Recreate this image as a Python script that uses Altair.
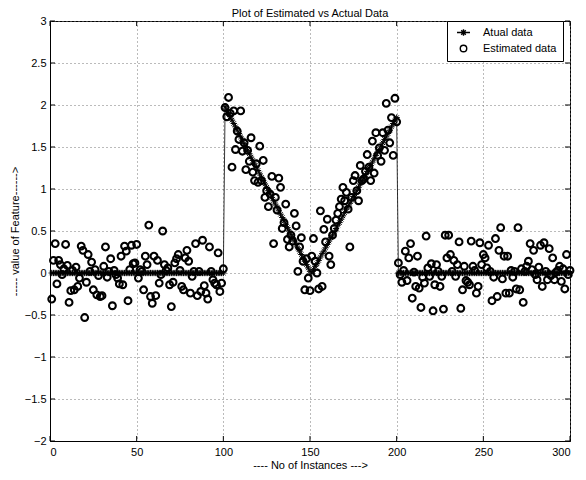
import altair as alt
import pandas as pd

# ---------------- data ----------------
x_values = list(range(1, 301))

actual_left = [0.0] * 100
actual_v = [
    1.98, 1.94, 1.90, 1.86, 1.82, 1.78, 1.74, 1.70, 1.66, 1.62,
    1.58, 1.54, 1.50, 1.46, 1.42, 1.38, 1.34, 1.30, 1.26, 1.22,
    1.18, 1.14, 1.10, 1.06, 1.02, 0.98, 0.94, 0.90, 0.86, 0.82,
    0.78, 0.74, 0.70, 0.66, 0.62, 0.58, 0.54, 0.50, 0.46, 0.42,
    0.38, 0.34, 0.30, 0.26, 0.22, 0.18, 0.14, 0.10, 0.06, 0.02,
    0.00, 0.04, 0.08, 0.11, 0.15, 0.19, 0.23, 0.26, 0.30, 0.34,
    0.38, 0.42, 0.45, 0.49, 0.53, 0.57, 0.60, 0.64, 0.68, 0.72,
    0.76, 0.79, 0.83, 0.87, 0.91, 0.94, 0.98, 1.02, 1.06, 1.10,
    1.13, 1.17, 1.21, 1.25, 1.28, 1.32, 1.36, 1.40, 1.44, 1.47,
    1.51, 1.55, 1.59, 1.62, 1.66, 1.70, 1.74, 1.78, 1.81, 1.85,
]
actual_right = [0.0] * 100

estimated = [
    -0.31, 0.15, 0.35, -0.13, 0.15, 0.10, -0.02, 0.05, 0.34, 0.09,
    -0.35, -0.21, 0.03, -0.20, 0.07, -0.16, -0.06, 0.32, 0.27, -0.53,
    -0.11, 0.22, 0.02, 0.13, -0.20, 0.04, -0.26, -0.03, -0.28, -0.27,
    0.08, 0.31, -0.05, 0.02, 0.17, -0.39, 0.03, -0.02, -0.06, -0.13,
    0.20, -0.14, 0.32, 0.26, -0.33, 0.04, 0.33, 0.11, 0.12, 0.34,
    -0.06, 0.04, 0.02, -0.20, 0.20, 0.10, 0.57, -0.28, -0.36, 0.20,
    -0.27, 0.15, -0.12, -0.02, 0.50, 0.10, 0.03, 0.06, -0.14, -0.40,
    -0.11, 0.12, 0.17, 0.22, 0.03, -0.16, -0.20, 0.18, 0.27, 0.14,
    -0.24, -0.04, 0.02, 0.35, -0.27, 0.02, -0.22, 0.39, -0.15, -0.24,
    -0.31, 0.31, 0.02, -0.08, -0.12, -0.14, 0.24, -0.22, -0.12, 0.05,
    1.97, 1.86, 2.09, 1.90, 1.26, 1.93, 1.47, 1.69, 1.59, 1.93,
    1.45, 1.55, 1.23, 1.46, 1.33, 1.61, 1.20, 1.10, 1.30, 1.08,
    1.51, 1.10, 1.34, 0.90, 0.98, 0.79, 0.94, 1.15, 0.35, 0.90,
    0.75, 1.13, 1.02, 0.53, 0.60, 0.82, 0.40, 0.31, 0.45, 0.38,
    0.71, 0.56, 0.02, 0.31, 0.42, 0.14, -0.20, 0.17, -0.06, -0.21,
    0.20, 0.41, 0.14, 0.00, -0.19, 0.74, -0.16, 0.52, 0.37, 0.64,
    0.20, 0.10, 0.45, 0.53, 0.63, 0.71, 0.79, 0.88, 1.02, 0.86,
    0.96, 0.76, 0.31, 0.90, 1.10, 1.16, 0.98, 0.86, 1.28, 1.10,
    1.12, 1.21, 1.41, 1.26, 1.10, 1.57, 1.19, 1.67, 1.40, 1.49,
    1.33, 1.67, 1.46, 2.02, 1.70, 1.55, 1.85, 1.40, 2.08, 1.80,
    0.12, -0.02, -0.11, 0.03, 0.26, -0.09, 0.18, 0.35, -0.30, 0.01,
    -0.16, 0.20, -0.18, -0.41, -0.05, -0.12, 0.44, 0.06, -0.04, 0.11,
    -0.45, -0.14, 0.10, 0.02, -0.16, -0.04, -0.43, 0.45, 0.18, 0.45,
    0.22, 0.02, 0.15, -0.04, 0.10, 0.37, -0.42, -0.20, 0.08, -0.09,
    -0.11, -0.14, 0.38, 0.08, 0.03, -0.24, -0.16, 0.36, 0.10, 0.22,
    0.18, 0.06, 0.33, 0.02, -0.33, -0.05, 0.41, -0.28, 0.27, 0.54,
    -0.07, 0.20, -0.24, 0.20, -0.24, 0.03, -0.05, 0.02, -0.19, 0.54,
    -0.20, 0.05, -0.35, 0.02, 0.08, 0.14, 0.35, 0.04, 0.27, -0.02,
    -0.08, 0.07, 0.33, -0.16, 0.36, 0.02, -0.08, 0.29, -0.03, 0.18,
    -0.08, 0.01, 0.03, 0.08, -0.10, 0.05, -0.19, 0.22, -0.02, 0.03,
]

x_ticks = [0, 50, 100, 150, 200, 250, 300]
y_ticks = [-2, -1.5, -1, -0.5, 0, 0.5, 1, 1.5, 2, 2.5, 3]
series_names = ["Atual data", "Estimated data"]

actual = actual_left + actual_v + actual_right
df = pd.DataFrame({"x": x_values, "actual": actual, "estimated": estimated})
xt = pd.DataFrame({"t": x_ticks})
yt = pd.DataFrame({"t": y_ticks})

# ---------------- styling ----------------
W, H = 520, 420
TL = 5  # inward tick length
FONT = "Liberation Sans"
STAR = "M-1,0L1,0M0,-1L0,1M-0.7,-0.7L0.7,0.7M-0.7,0.7L0.7,-0.7"
STAR_LEGEND = "M-2,0L2,0M0,-1L0,1M-0.7,-0.7L0.7,0.7M-0.7,0.7L0.7,-0.7"

xs = alt.Scale(domain=[0, 300], nice=False, zero=False)
ys = alt.Scale(domain=[-2, 3], nice=False, zero=False)
x_axis = alt.Axis(values=x_ticks, title="---- No of Instances --->", format="d",
                  labelPadding=5, titlePadding=2, titleColor="black")
y_axis = alt.Axis(values=y_ticks, title="----- value of Feature------>", format="~g",
                  labelPadding=4, titlePadding=4, titleColor="black")

line = alt.Chart(df).mark_line(color="black", strokeWidth=0.8).encode(
    x=alt.X("x:Q", scale=xs, axis=x_axis),
    y=alt.Y("actual:Q", scale=ys, axis=y_axis),
)
stars = alt.Chart(df).mark_point(shape=STAR, filled=False, color="black",
                                 strokeWidth=1, size=40, opacity=1).encode(
    x=alt.X("x:Q", scale=xs, axis=x_axis),
    y=alt.Y("actual:Q", scale=ys, axis=y_axis),
)
circles = alt.Chart(df).mark_point(shape="circle", filled=False, color="black",
                                   strokeWidth=2.1, size=46, opacity=1).encode(
    x=alt.X("x:Q", scale=xs, axis=x_axis),
    y=alt.Y("estimated:Q", scale=ys, axis=y_axis),
)

legend_layer = alt.Chart(df).transform_filter("false").transform_calculate(
    series="'Atual data'"
).mark_point(filled=False, color="black", strokeWidth=1.4, opacity=1).encode(
    x=alt.X("x:Q", scale=xs, axis=x_axis),
    y=alt.Y("estimated:Q", scale=ys, axis=y_axis),
    shape=alt.Shape(
        "series:N",
        scale=alt.Scale(domain=series_names, range=[STAR_LEGEND, "circle"]),
        legend=alt.Legend(
            title=None, orient="none", legendX=397, legendY=0,
            strokeColor="black", fillColor="white", padding=6,
            symbolOffset=5, labelOffset=14, rowPadding=3,
            symbolSize=42, symbolStrokeWidth=1.4, symbolStrokeColor="black",
            labelFont=FONT, labelFontSize=11, labelColor="black",
        ),
    ),
)

ticks_bottom = alt.Chart(xt).mark_rule(color="black", strokeWidth=1).encode(
    x=alt.X("t:Q", scale=xs, axis=x_axis), y=alt.value(H - TL), y2=alt.value(H))
ticks_top = alt.Chart(xt).mark_rule(color="black", strokeWidth=1).encode(
    x=alt.X("t:Q", scale=xs, axis=x_axis), y=alt.value(0), y2=alt.value(TL))
ticks_left = alt.Chart(yt).mark_rule(color="black", strokeWidth=1).encode(
    y=alt.Y("t:Q", scale=ys, axis=y_axis), x=alt.value(0), x2=alt.value(TL))
ticks_right = alt.Chart(yt).mark_rule(color="black", strokeWidth=1).encode(
    y=alt.Y("t:Q", scale=ys, axis=y_axis), x=alt.value(W - TL), x2=alt.value(W))

chart = alt.layer(
    ticks_bottom, ticks_top, ticks_left, ticks_right,
    line, stars, circles, legend_layer,
).properties(
    width=W, height=H,
    title=alt.TitleParams("Plot of Estimated vs Actual Data", anchor="middle",
                          font=FONT, fontSize=11, fontWeight="normal",
                          color="black", offset=1, dy=5),
    autosize=alt.AutoSizeParams(type="none"),
    padding={"left": 42, "top": 13, "right": 8, "bottom": 31},
).configure_view(
    stroke="black", strokeWidth=1
).configure_axis(
    grid=True, gridColor="#777777", gridDash=[1, 3], gridWidth=1,
    domain=True, domainColor="black", ticks=False,
    labelFont=FONT, labelFontSize=11, labelColor="black",
    titleFont=FONT, titleFontSize=11, titleFontWeight="normal", titleColor="black",
)

chart.save("out.html", embed_options={"renderer": "svg", "actions": False})
